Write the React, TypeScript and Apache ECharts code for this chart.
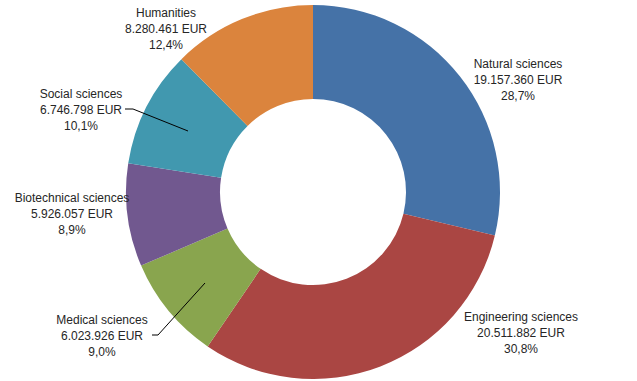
import React, { useEffect, useRef } from "react";
import * as echarts from "echarts";

const categories = [
  "Natural sciences",
  "Engineering sciences",
  "Medical sciences",
  "Biotechnical sciences",
  "Social sciences",
  "Humanities",
];
const amountsEUR = [19157360, 20511882, 6023926, 5926057, 6746798, 8280461];
const amountLabels = ["19.157.360", "20.511.882", "6.023.926", "5.926.057", "6.746.798", "8.280.461"];
const percentLabels = ["28,7%", "30,8%", "9,0%", "8,9%", "10,1%", "12,4%"];
const colors = ["#4572A7", "#AA4643", "#89A54E", "#71588F", "#4198AF", "#DB843D"];

// label placement (layout only)
const labelPos: [number, number][] = [
  [518, 80],
  [521, 333],
  [102, 336],
  [72, 214],
  [81, 110],
  [166, 29],
];
const leaderLines: [number, number][][] = [
  [[152, 335], [158, 335], [205, 283]],
  [[125, 109], [133, 109], [188, 131]],
];

export default function App() {
  const ref = useRef<HTMLDivElement>(null);
  useEffect(() => {
    document.body.style.margin = "0";
    const chart = echarts.init(ref.current!, null, { renderer: "svg" });
    chart.setOption({
      animation: false,
      backgroundColor: "#ffffff",
      graphic: leaderLines.map((pts) => ({
        type: "polyline",
        z: 10,
        shape: { points: pts },
        style: { stroke: "#000000", lineWidth: 1, fill: null },
      })),
      series: [
        {
          type: "pie",
          center: [313, 192],
          radius: [93, 187],
          startAngle: 90,
          clockwise: true,
          avoidLabelOverlap: false,
          label: {
            show: true,
            position: "outside",
            fontFamily: "Liberation Sans",
            fontSize: 12,
            lineHeight: 16,
            color: "#262626",
            align: "center",
            formatter: (p: any) =>
              `${categories[p.dataIndex]}\n${amountLabels[p.dataIndex]} EUR\n${percentLabels[p.dataIndex]}`,
          },
          labelLine: { show: false },
          labelLayout: (p: any) => {
            const i = p.dataIndex;
            return {
              x: labelPos[i][0],
              y: labelPos[i][1],
              align: "center",
              verticalAlign: "middle",
            };
          },
          data: categories.map((c, i) => ({
            name: c,
            value: amountsEUR[i],
            itemStyle: { color: colors[i] },
          })),
        },
      ],
    });
    return () => chart.dispose();
  }, []);
  return <div ref={ref} style={{ width: 637, height: 381 }} />;
}
